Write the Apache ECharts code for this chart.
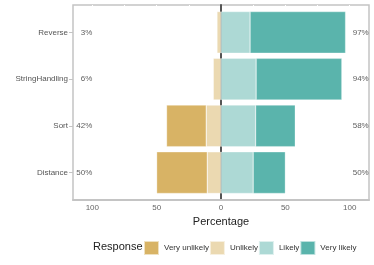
<!DOCTYPE html>
<html>
<head>
<meta charset="utf-8">
<script src="https://cdn.jsdelivr.net/npm/echarts@6/dist/echarts.min.js"></script>
<style>
html,body{margin:0;padding:0;background:#fff;}
#c{width:374px;height:265px;}
</style>
</head>
<body>
<div id="c"></div>
<script>
const categories = ['Reverse', 'StringHandling', 'Sort', 'Distance'];
const veryUnlikely = [0, 0, 30.8, 39.3];
const unlikely = [3.2, 6.1, 11.5, 10.7];
const likely = [22.6, 27.3, 26.9, 25.0];
const veryLikely = [74.2, 66.6, 30.8, 25.0];
const responses = ['Very unlikely', 'Unlikely', 'Likely', 'Very likely'];
const colors = ['#D8B365', '#EBD9B1', '#ADD9D5', '#5AB4AC'];
const gridTicks = [-100, -75, -50, -25, 0, 25, 50, 75, 100];
const tickLabels = [-100, -50, 0, 50, 100];

const leftLabels = categories.map((c, i) => Math.round(veryUnlikely[i] + unlikely[i]) + '%');
const rightLabels = categories.map((c, i) => Math.round(likely[i] + veryLikely[i]) + '%');

const font = 'Liberation Sans, Arial, sans-serif';
const chart = echarts.init(document.getElementById('c'), null, {renderer: 'canvas'});

function bar(name, values, sign, color) {
  return {
    name: name, type: 'bar', stack: 'likert', xAxisIndex: 1, yAxisIndex: 1,
    barWidth: '89%',
    itemStyle: {color: color, borderColor: 'rgba(255,255,255,0.6)', borderWidth: 0.5},
    data: values.map(v => sign * v)
  };
}

chart.setOption({
  animation: false,
  textStyle: {fontFamily: font},
  grid: [
    {left: 73, right: 5, top: 5, bottom: 65, show: true, borderColor: '#c4c4c4', borderWidth: 1.5, backgroundColor: '#fff'},
    {left: 73, right: 5, top: 9, height: 187}
  ],
  title: {
    text: 'Response', left: 93, top: 241, padding: 0,
    textStyle: {fontSize: 11, fontWeight: 'normal', color: '#222', fontFamily: font}
  },
  legend: {
    data: responses, left: 143, top: 240, padding: 0, itemGap: 0,
    itemWidth: 15, itemHeight: 14, icon: 'rect',
    textStyle: {fontSize: 8, color: '#333', fontFamily: font}
  },
  xAxis: [
    {
      gridIndex: 0, type: 'value', min: -115, max: 115,
      name: 'Percentage', nameLocation: 'middle', nameGap: 13,
      nameTextStyle: {fontSize: 11, color: '#222'},
      axisLine: {show: true, lineStyle: {color: '#c4c4c4', width: 2}},
      axisTick: {show: false, customValues: gridTicks},
      axisLabel: {customValues: tickLabels, fontSize: 8, color: '#666', margin: 4,
        formatter: v => String(Math.abs(v))},
      splitLine: {show: true, lineStyle: {color: '#ffffff', width: 1}}
    },
    {gridIndex: 1, type: 'value', min: -115, max: 115, show: false}
  ],
  yAxis: [
    {
      gridIndex: 0, type: 'category', data: categories, inverse: true,
      axisLine: {show: true, onZero: true, lineStyle: {color: '#555', width: 2}},
      axisTick: {show: false}, axisLabel: {show: false}, splitLine: {show: false}
    },
    {
      gridIndex: 1, type: 'category', data: categories, inverse: true,
      axisLine: {show: false, onZero: false},
      axisTick: {show: true, alignWithLabel: true, length: 4, lineStyle: {color: '#c4c4c4'}},
      axisLabel: {fontSize: 8, color: '#555', margin: 5}
    }
  ],
  series: [
    bar('Unlikely', unlikely, -1, colors[1]),
    bar('Very unlikely', veryUnlikely, -1, colors[0]),
    bar('Likely', likely, 1, colors[2]),
    bar('Very likely', veryLikely, 1, colors[3]),
    {
      type: 'scatter', xAxisIndex: 1, yAxisIndex: 1, symbolSize: 0, silent: true,
      data: categories.map((c, i) => [-100, c]),
      label: {show: true, position: 'left', distance: 0, fontSize: 8, color: '#333',
        formatter: p => leftLabels[p.dataIndex]}
    },
    {
      type: 'scatter', xAxisIndex: 1, yAxisIndex: 1, symbolSize: 0, silent: true,
      data: categories.map((c, i) => [100, c]),
      label: {show: true, position: 'right', distance: 3, fontSize: 8, color: '#333',
        formatter: p => rightLabels[p.dataIndex]}
    }
  ]
});
</script>
</body>
</html>
